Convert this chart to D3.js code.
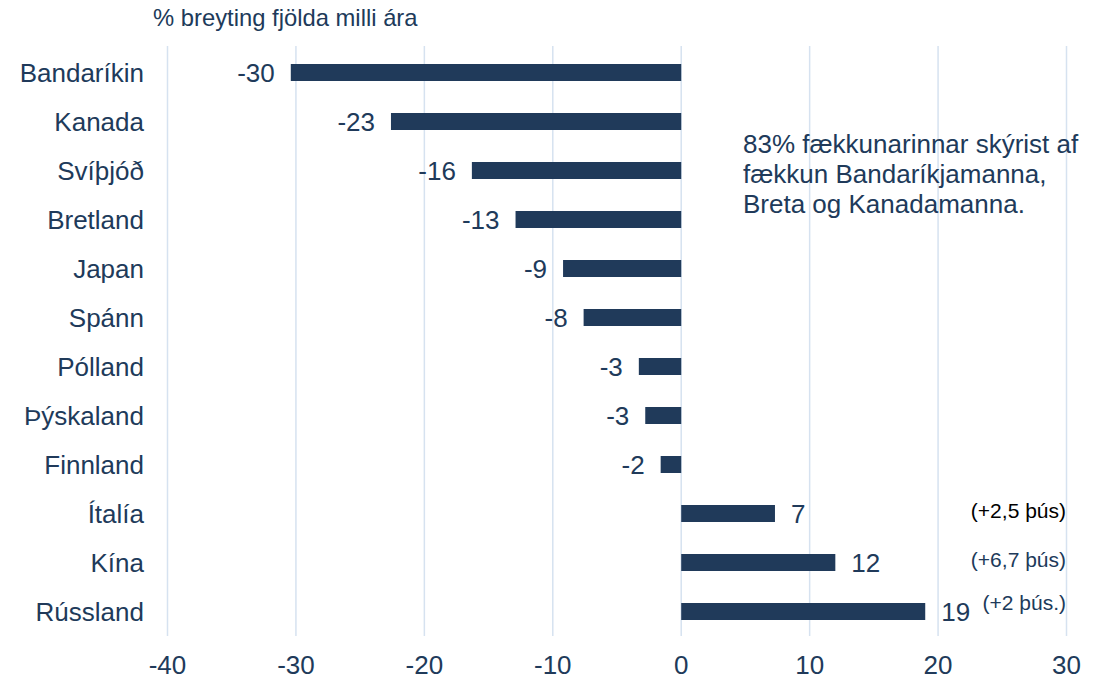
<!DOCTYPE html>
<html>
<head>
<meta charset="utf-8">
<script src="https://cdn.jsdelivr.net/npm/d3@7"></script>
<style>
  body { margin: 0; background: #fff; }
  text { font-family: "Liberation Sans", Arial, sans-serif; }
</style>
</head>
<body>
<div id="chart"></div>
<script>
const categories = ['Bandaríkin', 'Kanada', 'Svíþjóð', 'Bretland', 'Japan', 'Spánn',
  'Pólland', 'Þýskaland', 'Finnland', 'Ítalía', 'Kína', 'Rússland'];
const values = [-30.4, -22.6, -16.3, -12.9, -9.2, -7.6, -3.3, -2.8, -1.6, 7.3, 12.0, 19.0];
const xTicks = [-40, -30, -20, -10, 0, 10, 20, 30];
const noteCategories = ['Ítalía', 'Kína', 'Rússland'];
const noteTexts = ['(+2,5 þús)', '(+6,7 þús)', '(+2 þús.)'];
const title = '% breyting fjölda milli ára';
const annotation = ['83% fækkunarinnar skýrist af', 'fækkun Bandaríkjamanna,', 'Breta og Kanadamanna.'];

const width = 1115;
const height = 680;
const navy = '#203a5a';

const svg = d3.select('#chart')
  .append('svg')
  .attr('width', width)
  .attr('height', height);

const x = d3.scaleLinear().domain([-40, 30]).range([167.5, 1066.5]);
const y = d3.scalePoint().domain(categories).range([48, 636]).padding(0.5);
const barH = 17;

// gridlines
svg.append('g')
  .selectAll('line')
  .data(xTicks)
  .enter()
  .append('line')
  .attr('x1', (d) => x(d))
  .attr('x2', (d) => x(d))
  .attr('y1', 46)
  .attr('y2', 636)
  .attr('stroke', '#d6e2f0')
  .attr('stroke-width', 1.5);

// x tick labels
svg.append('g')
  .selectAll('text')
  .data(xTicks)
  .enter()
  .append('text')
  .attr('x', (d) => x(d))
  .attr('y', 674)
  .attr('text-anchor', 'middle')
  .attr('font-size', 26)
  .attr('fill', navy)
  .text((d) => d);

// bars
svg.append('g')
  .selectAll('rect')
  .data(categories)
  .enter()
  .append('rect')
  .attr('x', (d, i) => x(Math.min(0, values[i])))
  .attr('y', (d) => y(d) - barH / 2)
  .attr('width', (d, i) => Math.abs(x(values[i]) - x(0)))
  .attr('height', barH)
  .attr('fill', navy);

// category labels
svg.append('g')
  .selectAll('text')
  .data(categories)
  .enter()
  .append('text')
  .attr('x', 144)
  .attr('y', (d) => y(d) + 9)
  .attr('text-anchor', 'end')
  .attr('font-size', 26)
  .attr('fill', navy)
  .text((d) => d);

// value labels
svg.append('g')
  .selectAll('text')
  .data(categories)
  .enter()
  .append('text')
  .attr('x', (d, i) => values[i] < 0 ? x(values[i]) - 16 : x(values[i]) + 16)
  .attr('y', (d) => y(d) + 9)
  .attr('text-anchor', (d, i) => values[i] < 0 ? 'end' : 'start')
  .attr('font-size', 26)
  .attr('fill', navy)
  .text((d, i) => Math.round(values[i]));

// notes on the right
const noteDy = [4.5, 4.5, -1.5];
svg.append('g')
  .selectAll('text')
  .data(noteCategories)
  .enter()
  .append('text')
  .attr('x', 1066)
  .attr('y', (d, i) => y(d) + noteDy[i])
  .attr('text-anchor', 'end')
  .attr('font-size', 21)
  .attr('fill', (d, i) => i === 0 ? '#000' : navy)
  .text((d, i) => noteTexts[i]);

// title
svg.append('text')
  .attr('x', 153)
  .attr('y', 26)
  .attr('font-size', 23.8)
  .attr('fill', navy)
  .text(title);

// annotation
svg.append('g')
  .selectAll('text')
  .data(annotation)
  .enter()
  .append('text')
  .attr('x', 743)
  .attr('y', (d, i) => 153 + i * 30)
  .attr('font-size', 26)
  .attr('fill', navy)
  .text((d) => d);
</script>
</body>
</html>
